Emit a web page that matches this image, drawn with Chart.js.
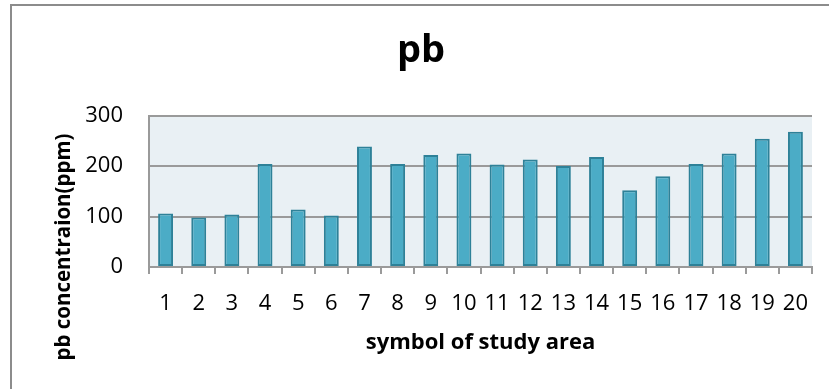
<!DOCTYPE html>
<html>
<head>
<meta charset="utf-8">
<title>pb</title>
<script src="https://cdn.jsdelivr.net/npm/chart.js@4.4.1/dist/chart.umd.min.js"></script>
<style>
  html, body { margin: 0; padding: 0; background: #fff; overflow: hidden; }
  #wrap { position: relative; width: 829px; height: 389px; overflow: hidden; }
  /* outer chart frame, only top and left edges fall inside the window */
  #frame {
    position: absolute; left: 10px; top: 4px; width: 900px; height: 500px;
    border-top: 2px solid #8c8c8c; border-left: 2px solid #8c8c8c;
  }
  canvas { position: absolute; left: 0; top: 0; }
</style>
</head>
<body>
<div id="wrap">
  <div id="frame"></div>
  <canvas id="pbChart" width="829" height="389"></canvas>
</div>
<script>
// study areas and measured lead concentrations (ppm)
const areas = ['1', '2', '3', '4', '5', '6', '7', '8', '9', '10',
               '11', '12', '13', '14', '15', '16', '17', '18', '19', '20'];
const pbValues = [106, 98, 104, 204, 114, 102, 239, 204, 222, 225,
                  203, 213, 200, 218, 152, 180, 204, 225, 254, 268];
const yTicks = [0, 100, 200, 300];

const FONT = "'Open Sans', sans-serif";
const GRID = '#9a9a9a';

// light fill behind the plot area
const plotBackground = {
    id: 'plotBackground',
    beforeDraw(chart) {
        const { ctx, chartArea: a } = chart;
        ctx.save();
        ctx.fillStyle = '#e9f0f4';
        ctx.fillRect(a.left, a.top, a.right - a.left, a.bottom - a.top);
        ctx.restore();
    }
};

// rotated y title, longer than the plot height so drawn by hand
const yAxisTitle = {
    id: 'yAxisTitle',
    afterDraw(chart) {
        const ctx = chart.ctx;
        ctx.save();
        ctx.translate(64, 247);
        ctx.rotate(-Math.PI / 2);
        ctx.font = 'bold 20.5px ' + FONT;
        ctx.fillStyle = '#000';
        ctx.textAlign = 'center';
        ctx.textBaseline = 'middle';
        ctx.fillText('pb concentraion(ppm)', 0, 0);
        ctx.restore();
    }
};

new Chart(document.getElementById('pbChart'), {
    type: 'bar',
    data: {
        labels: areas,
        datasets: [{
            data: pbValues,
            backgroundColor: '#4bacc6',
            borderColor: '#2e8198',
            borderWidth: 2,
            borderSkipped: false,
            barPercentage: 0.45,
            categoryPercentage: 1
        }]
    },
    options: {
        responsive: false,
        animation: false,
        layout: { padding: { left: 30, right: 17, top: 0, bottom: 0 } },
        plugins: {
            legend: { display: false },
            tooltip: { enabled: false },
            title: {
                display: true,
                text: 'pb',
                color: '#000',
                font: { family: FONT, size: 38, weight: 'bold' },
                padding: { top: 28, bottom: 42 }
            }
        },
        scales: {
            x: {
                afterFit(scale) { scale.height = 122; },
                border: { display: true, color: GRID, width: 2 },
                grid: {
                    display: true,
                    offset: true,
                    drawOnChartArea: false,
                    drawTicks: true,
                    tickLength: 7,
                    color: GRID,
                    lineWidth: 2
                },
                ticks: {
                    color: '#000',
                    font: { family: FONT, size: 22 },
                    padding: 17,
                    autoSkip: false,
                    maxRotation: 0
                },
                title: {
                    display: true,
                    text: 'symbol of study area',
                    color: '#000',
                    font: { family: FONT, size: 22, weight: 'bold' },
                    padding: { top: 0, bottom: 33 }
                }
            },
            y: {
                min: yTicks[0],
                max: yTicks[yTicks.length - 1],
                afterFit(scale) { scale.width = 119; },
                afterBuildTicks(scale) {
                    scale.ticks = yTicks.map(v => ({ value: v }));
                },
                border: { display: true, color: GRID, width: 2 },
                grid: { color: GRID, lineWidth: 2, drawTicks: false },
                ticks: {
                    color: '#000',
                    font: { family: FONT, size: 22 },
                    padding: 26
                }
            }
        }
    },
    plugins: [plotBackground, yAxisTitle]
});
</script>
</body>
</html>
